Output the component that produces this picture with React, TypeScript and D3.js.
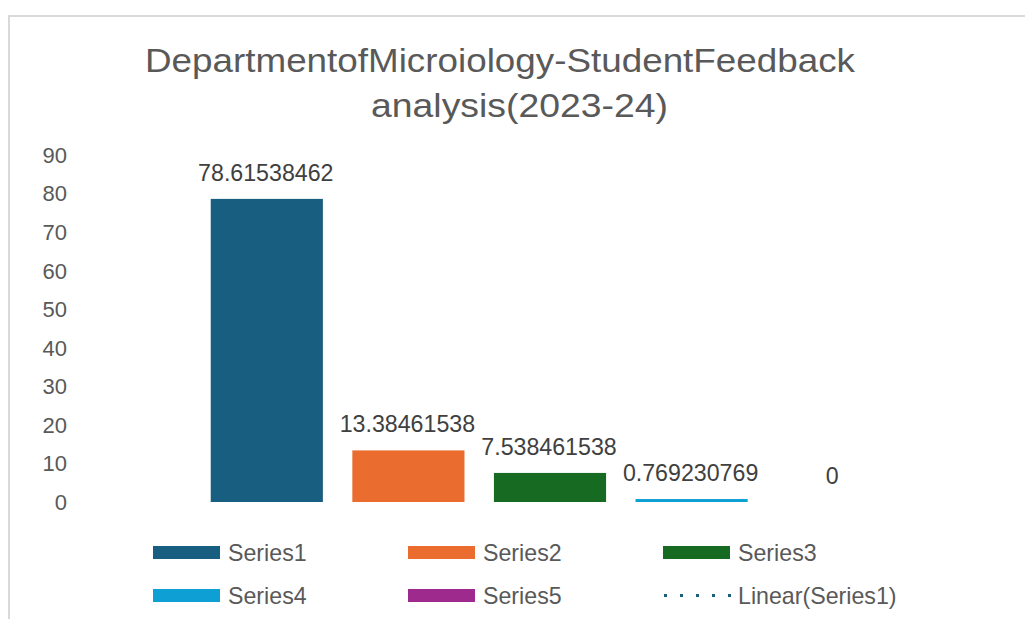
import React from "react";
import * as d3 from "d3";

const seriesNames = ["Series1", "Series2", "Series3", "Series4", "Series5"];
const seriesValues = [78.61538462, 13.38461538, 7.538461538, 0.769230769, 0];
const valueLabels = ["78.61538462", "13.38461538", "7.538461538", "0.769230769", "0"];
const seriesColors = ["#175e80", "#ea6d2f", "#176a22", "#0e9fd4", "#9e2a8e"];
const yTicks = [0, 10, 20, 30, 40, 50, 60, 70, 80, 90];
const titleLines = ["DepartmentofMicroiology-StudentFeedback", "analysis(2023-24)"];
const legendItems = ["Series1", "Series2", "Series3", "Series4", "Series5", "Linear(Series1)"];
const legendColors = ["#175e80", "#ea6d2f", "#176a22", "#0e9fd4", "#9e2a8e", "#1b5e80"];

const FONT = "'Liberation Sans', Arial, sans-serif";

export default function App() {
  const W = 1025;
  const H = 619;
  const x = d3.scaleBand<string>().domain(seriesNames).range([196, 904]).paddingInner(0.208).paddingOuter(0.104);
  const y = d3.scaleLinear().domain([0, 90]).range([502, 155]);

  const legendCols = [153, 408, 663];
  const legendRows = [552.5, 595.5];

  return (
    <svg width={W} height={H} style={{ position: "absolute", left: 0, top: 0, background: "#fff" }} fontFamily={FONT}>
      <rect x={0} y={0} width={W} height={H} fill="#fff" />
      <rect x={9} y={16} width={1200} height={800} fill="#fff" stroke="#d9d9d9" strokeWidth={2} />
      {/* title */}
      <text x={145} y={72} fontSize={34} fill="#595959" textLength={710} lengthAdjust="spacingAndGlyphs">
        {titleLines[0]}
      </text>
      <text x={371} y={117} fontSize={34} fill="#595959" textLength={297} lengthAdjust="spacingAndGlyphs">
        {titleLines[1]}
      </text>
      {/* y axis labels */}
      {yTicks.map((t) => (
        <text key={t} x={67} y={y(t)} dy="0.36em" textAnchor="end" fontSize={22} fill="#595959">
          {t}
        </text>
      ))}
      {/* bars */}
      {seriesNames.map((s, i) => {
        const v = seriesValues[i];
        const top = y(v);
        return (
          <g key={s}>
            <rect x={x(s)} y={top} width={x.bandwidth()} height={y(0) - top} fill={seriesColors[i]} />
            <text
              x={(x(s) as number) + x.bandwidth() / 2 - 1}
              y={top - 18}
              textAnchor="middle"
              fontSize={23.2}
              fill="#404040"
            >
              {valueLabels[i]}
            </text>
          </g>
        );
      })}
      {/* legend */}
      {legendItems.map((name, i) => {
        const cx = legendCols[i % 3];
        const cy = legendRows[Math.floor(i / 3)];
        const isTrend = name.startsWith("Linear");
        return (
          <g key={name}>
            {isTrend ? (
              <line
                x1={cx + 1}
                x2={cx + 68}
                y1={cy}
                y2={cy}
                stroke={legendColors[i]}
                strokeWidth={3}
                strokeDasharray="3 13"
              />
            ) : (
              <rect x={cx} y={cy - 6.5} width={67} height={13} fill={legendColors[i]} />
            )}
            <text x={cx + 75} y={cy} dy="0.36em" fontSize={23.2} fill="#595959">
              {name}
            </text>
          </g>
        );
      })}
    </svg>
  );
}
